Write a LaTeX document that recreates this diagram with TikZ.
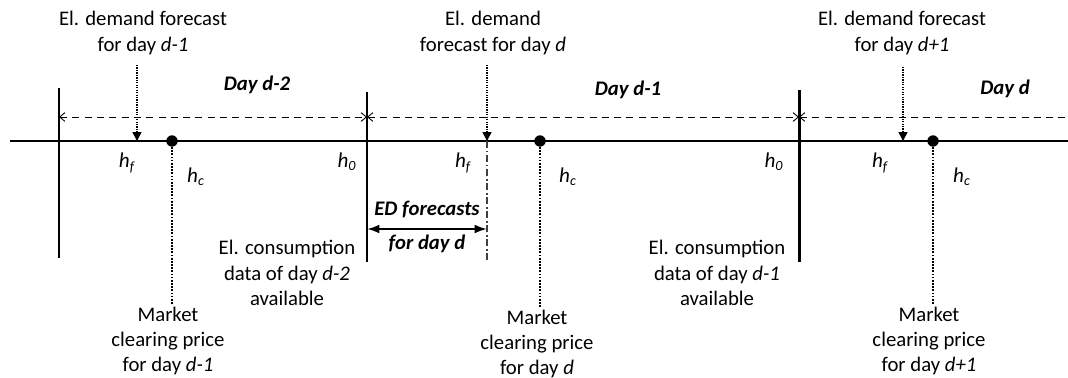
\documentclass[tikz,border=0pt]{standalone}
\usepackage{fontspec}
\setmainfont{Carlito}
\usetikzlibrary{arrows.meta}

\begin{document}
\begin{tikzpicture}[x=0.02cm, y=-0.02cm,
    lbl/.style={align=center, font=\fontsize{11.8}{14.3}\selectfont, inner sep=1pt},
    hlbl/.style={font=\fontsize{12}{13}\selectfont\itshape, inner sep=0pt},
    daylbl/.style={font=\fontsize{11.8}{13}\selectfont\bfseries\itshape, inner sep=0pt},
    bnd/.style={line width=1.7pt},
    dayarr/.style={dash pattern=on 4pt off 3pt, line width=0.5pt},
    fcarr/.style={dash pattern=on 0.7pt off 0.7pt, line width=0.9pt, -{Triangle[length=5pt,width=5pt]}},
    dot/.style={circle, fill, inner sep=0pt, minimum size=6.5pt},
    mcpline/.style={dash pattern=on 1pt off 0.8pt, line width=1.2pt},
]
\useasboundingbox (0,0) rectangle (1068,378);

% time axis and day boundaries
\coordinate (L) at (10,141);
\coordinate (R) at (1068,141);
\draw[bnd] (L) -- (R);
\coordinate (b1t) at (59,88);  \coordinate (b1b) at (59,258);
\coordinate (b2t) at (367,92); \coordinate (b2b) at (367,262);
\coordinate (b3t) at (799,90); \coordinate (b3b) at (799,262);
\draw[bnd] (b1t) -- (b1b);
\draw[bnd] (b2t) -- (b2b);
\draw[bnd] (b3t) -- (b3b);

% day spans
\coordinate (d1) at (59,117);
\coordinate (d2) at (367,117);
\coordinate (d3) at (799,117);
\coordinate (d4) at (1068,117);
\draw[dayarr, {Straight Barb[length=3pt,width=5pt]}-{Straight Barb[length=3pt,width=5pt]}] (d1) -- (d2);
\draw[dayarr, {Straight Barb[length=3pt,width=5pt]}-{Straight Barb[length=3pt,width=5pt]}] (d2) -- (d3);
\draw[dayarr, {Straight Barb[length=3pt,width=5pt]}-] (d3) -- (d4);
\node[daylbl] (day1) at (257,85) {Day d-2};
\node[daylbl] (day2) at (628,90) {Day d-1};
\node[daylbl] (day3) at (1005,89) {Day d};

% demand forecasts
\node[lbl] (fc1) at (143,33) {El. demand forecast\\for day \textit{d-1}};
\node[lbl] (fc2) at (493,33) {El. demand\\forecast for day \textit{d}};
\node[lbl] (fc3) at (902,33) {El. demand forecast\\for day \textit{d+1}};
\coordinate (fc1s) at (137,65);  \coordinate (hf1) at (137,141);
\coordinate (fc2s) at (487,65);  \coordinate (hf2) at (487,141);
\coordinate (fc3s) at (903,67);  \coordinate (hf3) at (903,141);
\draw[fcarr] (fc1s) -- (hf1);
\draw[fcarr] (fc2s) -- (hf2);
\draw[fcarr] (fc3s) -- (hf3);

% market clearing
\node[dot] (hc1) at (172,141) {};
\node[dot] (hc2) at (540,141) {};
\node[dot] (hc3) at (933,141) {};
\node[lbl] (mcp1) at (168,341) {Market\\clearing price\\for day \textit{d-1}};
\node[lbl] (mcp2) at (537,344) {Market\\clearing price\\for day \textit{d}};
\node[lbl] (mcp3) at (929,341) {Market\\clearing price\\for day \textit{d+1}};
\draw[mcpline] (hc1) -- (mcp1.north -| hc1);
\draw[mcpline] (hc2) -- (mcp2.north -| hc2);
\draw[mcpline] (hc3) -- (mcp3.north -| hc3);

% hour labels
\node[hlbl] (hf1l) at (127,163) {h\textsubscript{f}};
\node[hlbl] (hc1l) at (196,177) {h\textsubscript{c}};
\node[hlbl] (h01l) at (347,162) {h\textsubscript{0}};
\node[hlbl] (hf2l) at (463,163) {h\textsubscript{f}};
\node[hlbl] (hc2l) at (568,177) {h\textsubscript{c}};
\node[hlbl] (h02l) at (774,162) {h\textsubscript{0}};
\node[hlbl] (hf3l) at (880,163) {h\textsubscript{f}};
\node[hlbl] (hc3l) at (962,177) {h\textsubscript{c}};

% consumption data
\node[lbl] (ecd1) at (287,273) {El. consumption\\data of day \textit{d-2}\\available};
\node[lbl] (ecd2) at (717,273) {El. consumption\\data of day \textit{d-1}\\available};

% ED forecast window
\coordinate (edb) at (487,262);
\draw[dash pattern=on 4pt off 1.5pt on 1pt off 1.5pt, line width=0.6pt, darkgray] (hf2) -- (edb);
\coordinate (ed1) at (367,229);
\coordinate (ed2) at (487,229);
\draw[line width=1.2pt, {Latex[length=7pt,width=5pt]}-{Latex[length=7pt,width=5pt]}] (ed1) -- (ed2);
\node[daylbl] (edt) at (427,210) {ED forecasts};
\node[daylbl] (edb2) at (427,244) {for day d};
\end{tikzpicture}
\end{document}
